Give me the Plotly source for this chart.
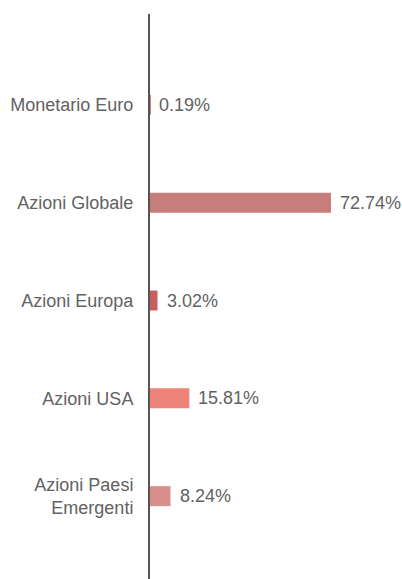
import plotly.graph_objects as go

categories = ["Monetario Euro", "Azioni Globale", "Azioni Europa", "Azioni USA", "Azioni Paesi<br>Emergenti"]
values = [0.19, 72.74, 3.02, 15.81, 8.24]
labels = ["0.19%", "72.74%", "3.02%", "15.81%", "8.24%"]
colors = ["#C87D7D", "#C87D7D", "#C66060", "#EE8379", "#DA8D8D"]

FONT = "Liberation Sans, Arial, sans-serif"
TXT = "#626262"

fig = go.Figure()
fig.add_trace(go.Bar(
    x=values, y=categories, orientation="h",
    marker=dict(color=colors, line=dict(width=0)),
    width=0.204, hoverinfo="skip",
))
for v, c, t in zip(values, categories, labels):
    fig.add_annotation(x=v, y=c, text=t, showarrow=False, xanchor="left",
                       xshift=7, font=dict(size=18, color=TXT, family=FONT))

fig.update_layout(
    width=402, height=579,
    margin=dict(l=150, r=0, t=14, b=0),
    paper_bgcolor="white", plot_bgcolor="white",
    showlegend=False,
    font=dict(family=FONT, size=18, color=TXT),
    xaxis=dict(range=[0, 252 / 2.488], showgrid=False, zeroline=False, showticklabels=False,
               showline=False, fixedrange=True),
    yaxis=dict(range=[4.847, -0.929], showgrid=False, zeroline=False, showline=True,
               linecolor="#555555", linewidth=2, ticks="", ticklabelstandoff=11,
               tickfont=dict(size=18, color=TXT, family=FONT)),
)
fig.write_html("out.html", config={"displayModeBar": False},
               post_script="document.body.style.margin='0';document.body.style.overflow='hidden';")
